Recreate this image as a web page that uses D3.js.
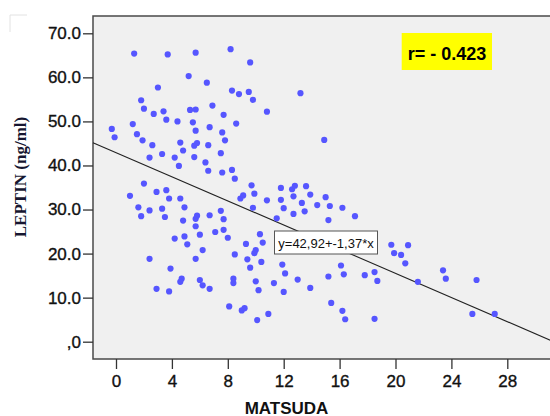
<!DOCTYPE html>
<html>
<head>
<meta charset="utf-8">
<script src="https://cdn.jsdelivr.net/npm/d3@7"></script>
<style>
  body { margin: 0; background: #fff; }
  svg { display: block; }
</style>
</head>
<body>
<div id="chart"></div>
<script>
// values
const matsuda = [
  1.3, 3.7, 5.7, 8.2, 9.6, 5.2, 6.5, 3.0, 8.3, 8.8,
  9.5, 13.2, 1.8, 9.8, 2.0, 2.7, 3.4, 5.3, 5.7, 6.9,
  7.7, 10.8, 3.6, 4.4, 5.5, 1.2, -0.3, 1.5, 5.7, 6.7,
  7.6, 8.6, -0.1, 1.9, 7.8, 14.9, 2.6, 4.6, 4.8, 5.6,
  5.8, 6.6, 2.4, 3.3, 4.2, 5.6, 4.5, 6.4, 7.5, 6.6,
  7.6, 8.3, 8.5, 2.0, 1.0, 2.9, 3.6, 3.8, 4.6, 8.9,
  9.1, 9.7, 9.9, 10.8, 11.8, 11.8, 12.6, 12.8, 12.7, 13.6,
  13.9, 15.0, 1.6, 1.8, 2.4, 3.3, 3.5, 4.9, 4.8, 5.7,
  5.8, 5.7, 6.7, 7.5, 7.7, 7.7, 7.1, 6.0, 4.9, 4.2,
  8.0, 9.8, 12.0, 13.3, 14.4, 15.3, 16.2, 12.7, 13.5, 15.2,
  17.1, 11.5, 10.3, 5.1, 9.3, 10.5, 10.0, 9.9, 6.2, 8.5,
  2.4, 5.7, 9.4, 10.4, 3.9, 9.6, 11.9, 12.1, 4.7, 4.6,
  6.0, 6.2, 6.7, 2.9, 3.8, 8.4, 8.4, 10.0, 10.2, 11.3,
  12.0, 13.0, 13.9, 15.2, 16.1, 16.3, 17.8, 18.5, 18.7, 19.7,
  20.9, 19.9, 20.4, 20.7, 21.6, 23.4, 23.6, 25.8, 25.5, 27.1,
  8.1, 9.0, 9.2, 10.1, 10.9, 15.4, 16.2, 16.4, 18.5
]
const leptin = [
  65.4, 65.2, 65.6, 66.4, 63.4, 60.3, 58.8, 57.7, 57.0, 56.2,
  56.7, 56.4, 54.8, 54.9, 52.9, 51.7, 52.3, 52.6, 52.7, 53.6,
  51.5, 52.2, 50.4, 50.0, 49.8, 49.4, 48.3, 47.1, 47.9, 48.7,
  47.5, 49.5, 46.4, 45.7, 45.7, 45.8, 44.6, 45.2, 43.4, 44.5,
  45.1, 44.6, 41.8, 42.6, 41.8, 41.9, 39.9, 40.7, 42.8, 38.8,
  38.4, 39.0, 37.0, 35.9, 33.1, 34.0, 34.4, 32.5, 32.5, 32.5,
  33.2, 35.5, 33.6, 32.1, 34.9, 32.2, 34.6, 35.4, 33.0, 35.3,
  33.4, 32.8, 30.5, 28.5, 29.8, 30.2, 28.3, 30.5, 27.5, 27.9,
  28.6, 26.2, 28.7, 29.7, 27.8, 25.4, 24.9, 24.3, 23.9, 23.4,
  23.6, 30.4, 30.3, 31.5, 31.0, 30.8, 30.4, 29.0, 29.6, 27.6,
  28.5, 28.0, 24.4, 22.1, 22.2, 22.5, 20.8, 20.1, 20.8, 19.8,
  18.8, 18.8, 18.7, 18.1, 16.6, 16.8, 17.5, 15.5, 14.3, 13.6,
  14.0, 12.8, 12.0, 12.0, 11.4, 14.3, 13.3, 13.7, 11.7, 13.3,
  11.3, 14.1, 12.2, 14.8, 17.3, 15.3, 15.1, 15.8, 13.8, 22.0,
  21.9, 20.1, 19.7, 17.8, 13.6, 16.2, 14.3, 14.0, 6.3, 6.3,
  8.0, 7.1, 7.6, 4.9, 6.3, 8.8, 7.0, 5.1, 5.2
]

const xTicks = [0, 4, 8, 12, 16, 20, 24, 28]
const yTicks = [0, 10, 20, 30, 40, 50, 60, 70]
const yTickLabels = [',0', '10.0', '20.0', '30.0', '40.0', '50.0', '60.0', '70.0']

// fit line, as printed on the chart
const intercept = 42.92
const slope = -1.37
const fitLabel = 'y=42,92+-1,37*x'
const rLabel = 'r= - 0.423'

const width = 550,
height = 416,
plotLeft = 93,
plotTop = 16,
plotBottom = 359,
plotRight = 560

const svg = d3.select('#chart')
  .append('svg')
  .attr('width', width)
  .attr('height', height)

const x = d3.scaleLinear().domain([0, 28]).range([116, 507.3])
const y = d3.scaleLinear().domain([0, 70]).range([341.7, 33.3])

// faint outer frame corner
svg.append('path')
  .attr('d', 'M10,32V15H27')
  .attr('fill', 'none')
  .attr('stroke', '#e2e2e2')

// plot area
svg.append('rect')
  .attr('x', plotLeft)
  .attr('y', plotTop)
  .attr('width', plotRight - plotLeft)
  .attr('height', plotBottom - plotTop)
  .attr('fill', '#f0f0f0')
  .attr('stroke', '#4a4a4a')
  .attr('stroke-width', 1.5)

// axes
const yAxis = svg.append('g')
  .attr('transform', `translate(${plotLeft},0)`)
  .call(d3.axisLeft(y).tickValues(yTicks)
    .tickFormat((d, i) => yTickLabels[i])
    .tickSize(10).tickPadding(2))
yAxis.select('.domain').remove()

const xAxis = svg.append('g')
  .attr('transform', `translate(0,${plotBottom})`)
  .call(d3.axisBottom(x).tickValues(xTicks).tickSize(10).tickPadding(6))
xAxis.select('.domain').remove()

svg.selectAll('.tick line')
  .attr('stroke', '#333')
  .attr('stroke-width', 1.3)
svg.selectAll('.tick text')
  .attr('fill', '#111')
  .attr('stroke', '#111')
  .attr('stroke-width', 0.35)
  .style('font-family', '"Liberation Sans", Arial, sans-serif')
  .style('font-size', '17px')

// regression line
const x0 = x.invert(plotLeft), x1 = x.invert(plotRight)
svg.append('line')
  .attr('x1', x(x0)).attr('y1', y(intercept + slope * x0))
  .attr('x2', x(x1)).attr('y2', y(intercept + slope * x1))
  .attr('stroke', '#222')
  .attr('stroke-width', 1.1)

// points
svg.append('g')
  .selectAll('circle')
  .data(matsuda)
  .enter()
  .append('circle')
  .attr('cx', d => x(d))
  .attr('cy', (d, i) => y(leptin[i]))
  .attr('r', 3.1)
  .attr('fill', '#5656ff')

// equation box
const eq = svg.append('g')
eq.append('rect')
  .attr('x', 274.5).attr('y', 231)
  .attr('width', 103).attr('height', 23)
  .attr('fill', '#fff')
  .attr('stroke', '#555')
eq.append('text')
  .attr('x', 326).attr('y', 247.5)
  .attr('text-anchor', 'middle')
  .style('font-family', '"Liberation Sans", Arial, sans-serif')
  .style('font-size', '13px')
  .attr('fill', '#111')
  .text(fitLabel)

// r box
svg.append('rect')
  .attr('x', 401.7).attr('y', 33)
  .attr('width', 90.3).attr('height', 37)
  .attr('fill', '#ffff00')
svg.append('text')
  .attr('x', 447).attr('y', 59.5)
  .attr('text-anchor', 'middle')
  .style('font-family', '"Liberation Sans", Arial, sans-serif')
  .style('font-size', '18px')
  .style('font-weight', 'bold')
  .attr('fill', '#000')
  .text(rLabel)

// axis titles
svg.append('text')
  .attr('transform', 'translate(26,177) rotate(-90)')
  .attr('text-anchor', 'middle')
  .style('font-family', '"Liberation Serif", "Times New Roman", serif')
  .style('font-size', '17px')
  .style('font-weight', 'bold')
  .attr('fill', '#161630')
  .text('LEPTIN (ng/ml)')

svg.append('text')
  .attr('x', 286.5).attr('y', 413.5)
  .attr('text-anchor', 'middle')
  .style('font-family', '"Liberation Sans", Arial, sans-serif')
  .style('font-size', '17px')
  .style('font-weight', 'bold')
  .attr('fill', '#111')
  .text('MATSUDA')
</script>
</body>
</html>
